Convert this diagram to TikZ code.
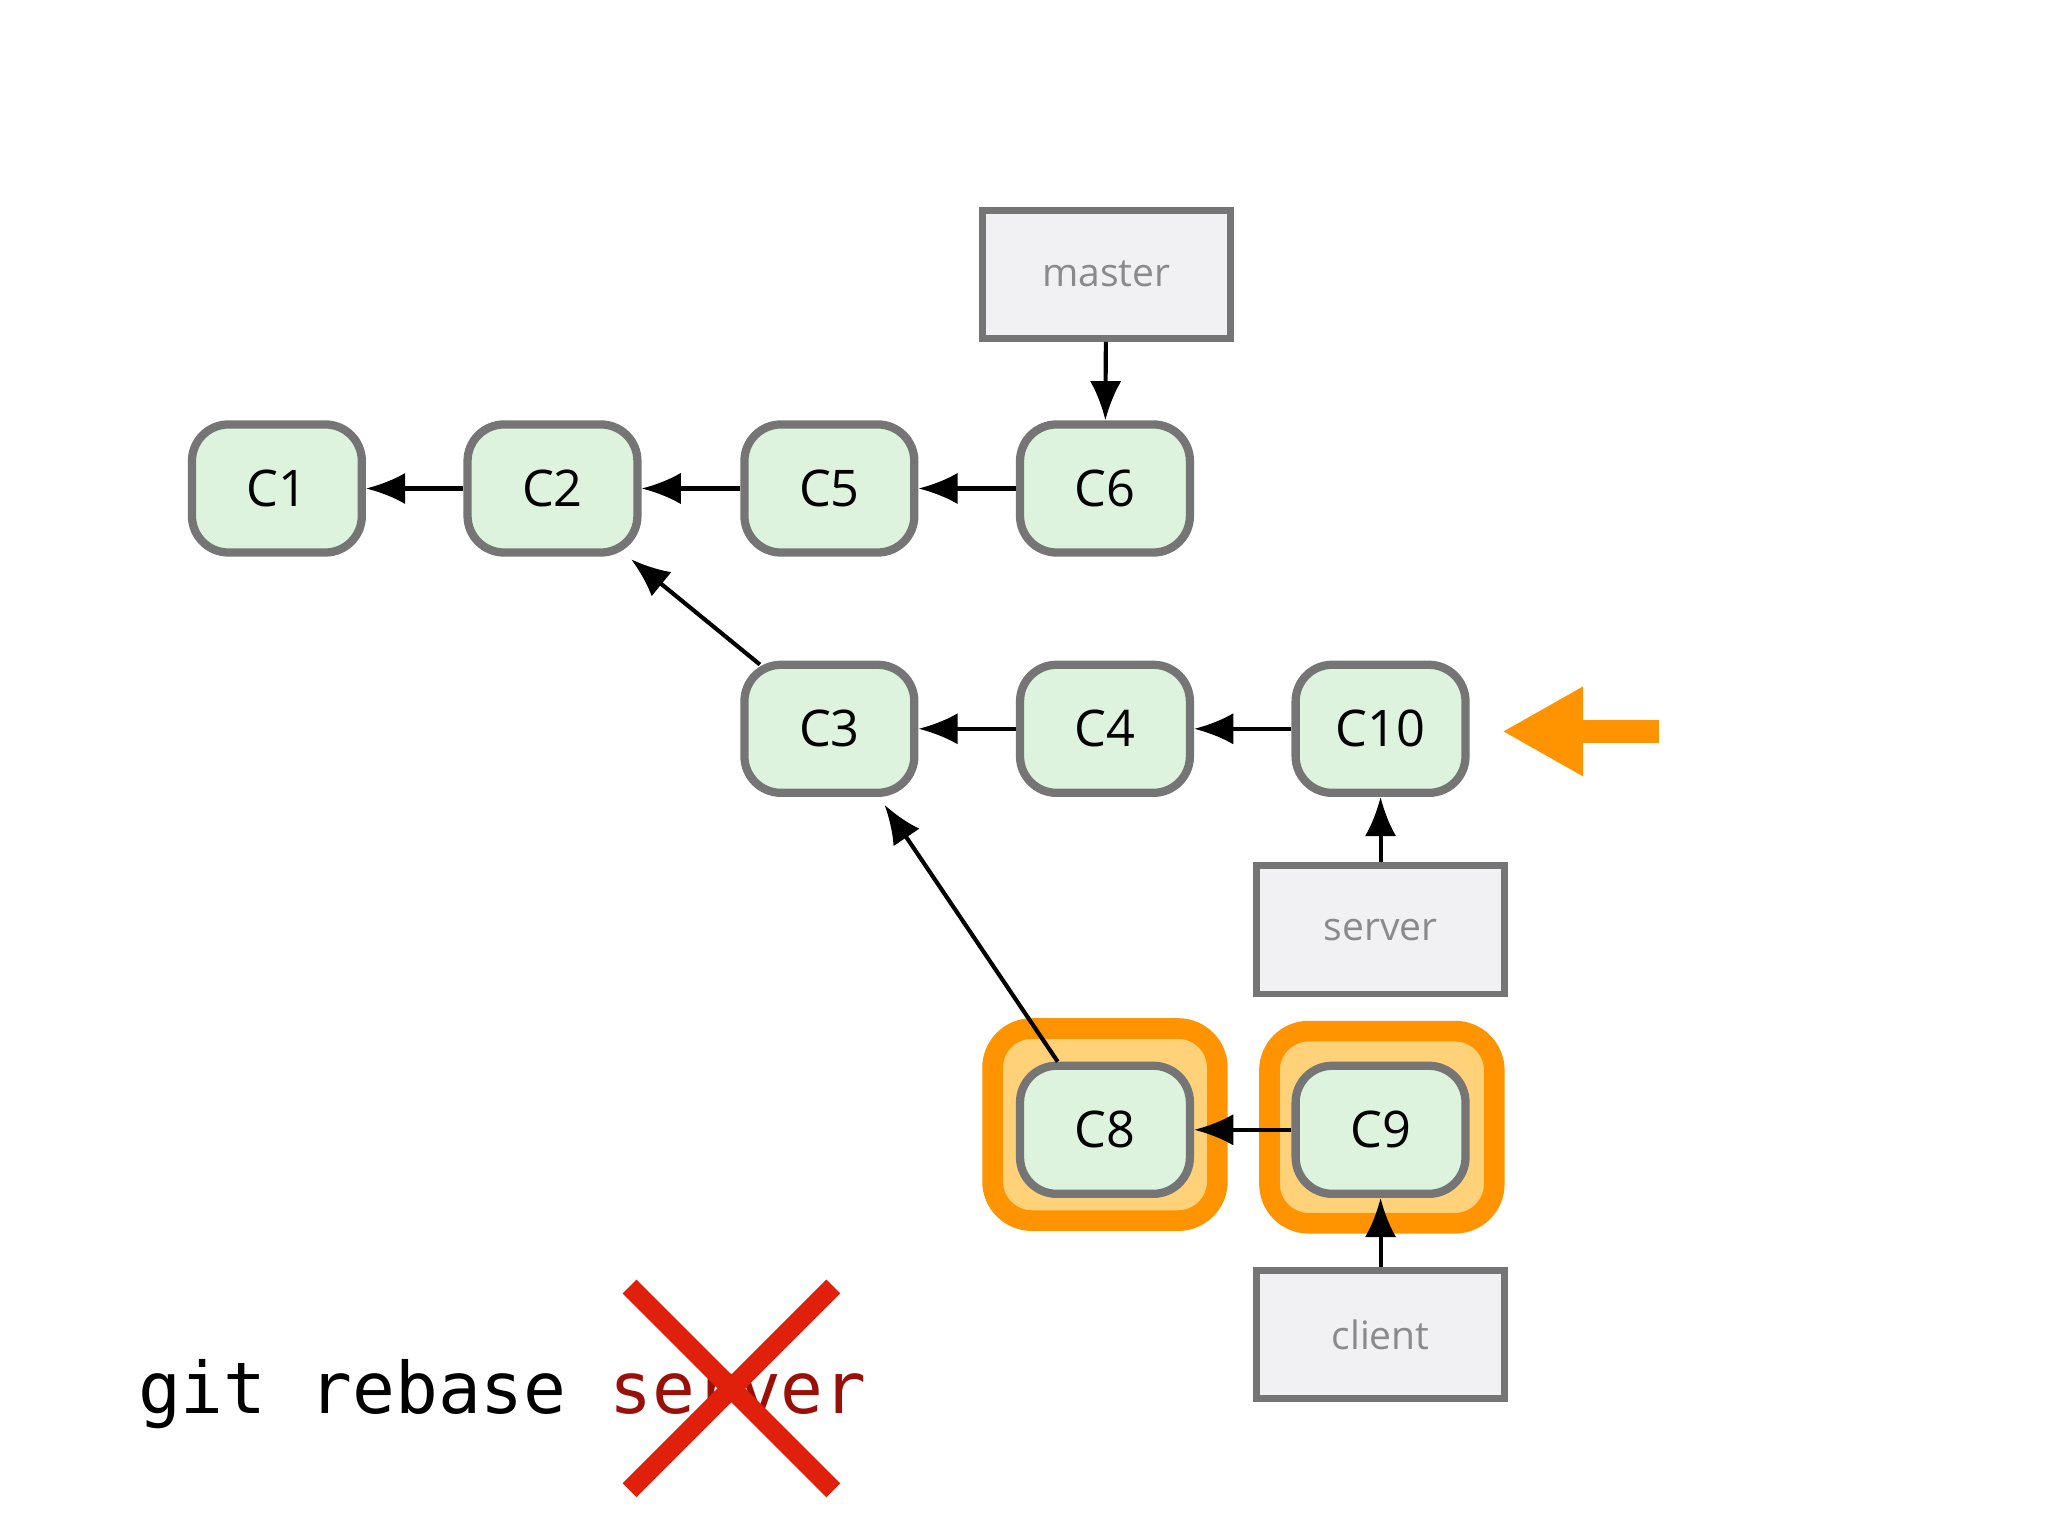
\documentclass[tikz,border=0pt]{standalone}
\usepackage{fontspec}
\setmainfont{Open Sans}
\newfontfamily\monofont{DejaVu Sans Mono}
\usetikzlibrary{arrows.meta,positioning}
\definecolor{commitfill}{HTML}{DDF3DE}
\definecolor{commitline}{HTML}{757575}
\definecolor{branchfill}{HTML}{F1F0F3}
\definecolor{hiorange}{HTML}{FF9400}
\definecolor{hilight}{HTML}{FFD27A}
\definecolor{xred}{HTML}{E0200A}
\definecolor{darkred}{HTML}{9A1008}
\tikzset{
  commit/.style={draw=commitline,fill=commitfill,line width=1.8pt,rounded corners=0.28cm,minimum width=1.3cm,minimum height=0.98cm,font=\fontsize{11}{13}\selectfont},
  branch/.style={draw=commitline,fill=branchfill,line width=1.5pt,minimum width=1.9cm,minimum height=0.98cm,text=commitline!85,font=\fontsize{8.5}{10}\selectfont},
  hibox/.style={draw=hiorange,fill=hilight,line width=4.5pt,rounded corners=0.3cm,minimum width=1.72cm,minimum height=1.47cm},
  parent/.style={-{Latex[length=0.3cm,width=0.24cm]},line width=0.9pt}
}
\begin{document}
\begin{tikzpicture}[x=0.01cm,y=-0.01cm]
\useasboundingbox[fill=white] (0,0) rectangle (1568,1176);
% highlights
\node[hibox] (h8) at (846,861) {};
\node[hibox] (h9) at (1058,863) {};
% commits
\node[commit] (c1) at (212,374) {C1};
\node[commit] (c2) at (423,374) {C2};
\node[commit] (c5) at (635,374) {C5};
\node[commit] (c6) at (846,374) {C6};
\node[commit] (c3) at (635,558) {C3};
\node[commit] (c4) at (846,558) {C4};
\node[commit] (c10) at (1057,558) {C10};
\node[commit] (c8) at (846,865) {C8};
\node[commit] (c9) at (1057,865) {C9};
% branches
\node[branch] (master) at (847,210) {master};
\node[branch] (server) at (1057,712) {server};
\node[branch] (client) at (1057,1022) {client};
% links
\draw[parent] (c2) -- (c1);
\draw[parent] (c5) -- (c2);
\draw[parent] (c6) -- (c5);
\draw[parent] (c4) -- (c3);
\draw[parent] (c10) -- (c4);
\draw[parent] (c9) -- (c8);
\draw[parent] (c3.north west) ++(15,3) coordinate (c3a) (c3a) -- ([shift={(-8,2)}]c2.south east);
\draw[parent] (c8.north west) ++(32,0) coordinate (c8a) (c8a) -- ([shift={(-26,6)}]c3.south east);
\draw[parent] (master) -- (c6);
\draw[parent] (server) -- (c10);
\draw[parent] (client) -- (c9);
% current arrow
\coordinate (tail) at (1270,560);
\coordinate (tip) at (1150,560);
\draw[hiorange,line width=0.17cm,-{Triangle[length=0.62cm,width=0.64cm]}] (tail) -- (tip);
% command
\node[anchor=base west,inner sep=0,font=\monofont\fontsize{15.5}{17}\selectfont] (cmd) at (105,1082) {git rebase \textcolor{darkred}{server}};
\coordinate (xa) at (482,985);
\coordinate (xb) at (638,1141);
\coordinate (xc) at (638,985);
\coordinate (xd) at (482,1141);
\draw[xred,line width=0.15cm] (xa) -- (xb) (xc) -- (xd);
\end{tikzpicture}
\end{document}
